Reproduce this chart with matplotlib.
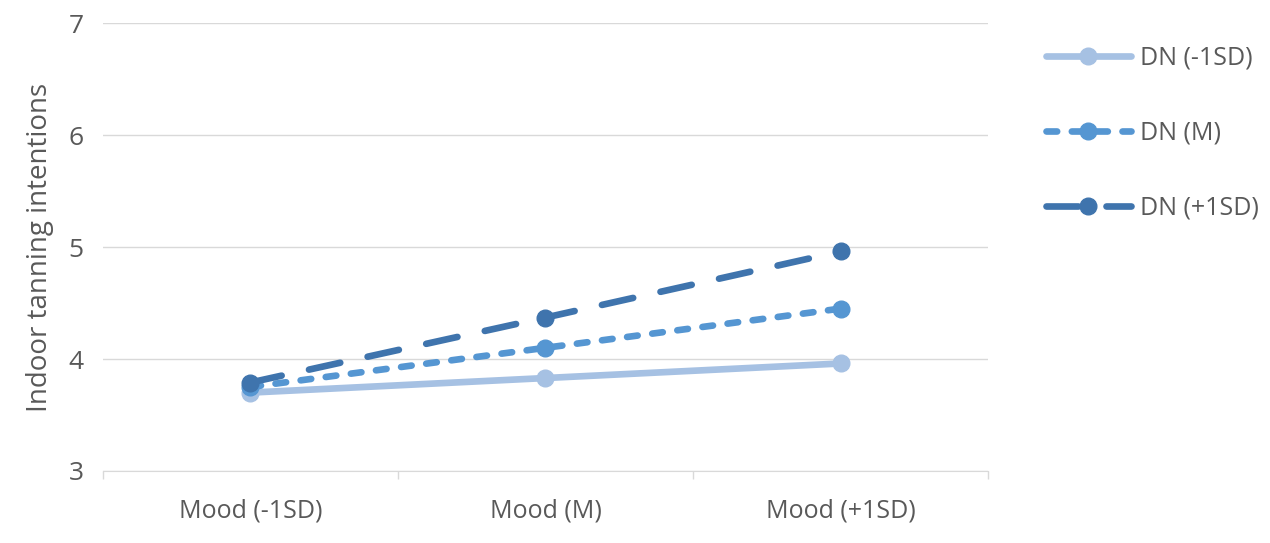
import matplotlib.pyplot as plt

categories = ['Mood (-1SD)', 'Mood (M)', 'Mood (+1SD)']
dn_low = [3.70, 3.83, 3.96]
dn_mean = [3.75, 4.10, 4.45]
dn_high = [3.79, 4.37, 4.96]
series_names = ['DN (-1SD)', 'DN (M)', 'DN (+1SD)']

plt.rcParams['font.family'] = ['Open Sans', 'DejaVu Sans']

fig = plt.figure(figsize=(12.7, 5.43), dpi=100)
ax = fig.add_axes([0.081, 0.1326, 0.697, 0.825])

x = list(range(len(categories)))
lw = 4.8
ax.plot(x, dn_low, color='#a6c1e3', lw=lw, marker='o', ms=12,
        label=series_names[0], solid_capstyle='round')
ax.plot(x, dn_mean, color='#5596d2', lw=lw, marker='o', ms=12,
        dashes=(1.6, 2.2), dash_capstyle='round', label=series_names[1])
ax.plot(x, dn_high, color='#3f74ad', lw=lw, marker='o', ms=12,
        dashes=(4.8, 4.2), dash_capstyle='round', label=series_names[2])

ax.set_xlim(-0.5, 2.5)
ax.set_ylim(3, 7)
ax.set_yticks([3, 4, 5, 6, 7])
ax.set_xticks(x)
ax.set_xticklabels(categories)
ax.set_xticks([-0.5, 0.5, 1.5, 2.5], minor=True)
ax.tick_params(axis='x', which='major', length=0, labelsize=18, colors='#595959', pad=20)
ax.tick_params(axis='x', which='minor', length=6, color='#d9d9d9', width=1)
ax.tick_params(axis='y', length=0, labelsize=19, colors='#595959', pad=14)
ax.grid(axis='y', color='#d9d9d9', lw=1)
ax.set_axisbelow(True)
for s in ['top', 'right', 'left']:
    ax.spines[s].set_visible(False)
ax.spines['bottom'].set_color('#d9d9d9')
ax.set_ylabel('Indoor tanning intentions', fontsize=20, color='#595959', labelpad=10)

leg = ax.legend(loc='upper left', bbox_to_anchor=(1.04, 1.0), frameon=False,
                fontsize=18, handlelength=3.4, labelspacing=2.0, handletextpad=0.35)
for t in leg.get_texts():
    t.set_color('#595959')

fig.savefig('out.png', dpi=100)
